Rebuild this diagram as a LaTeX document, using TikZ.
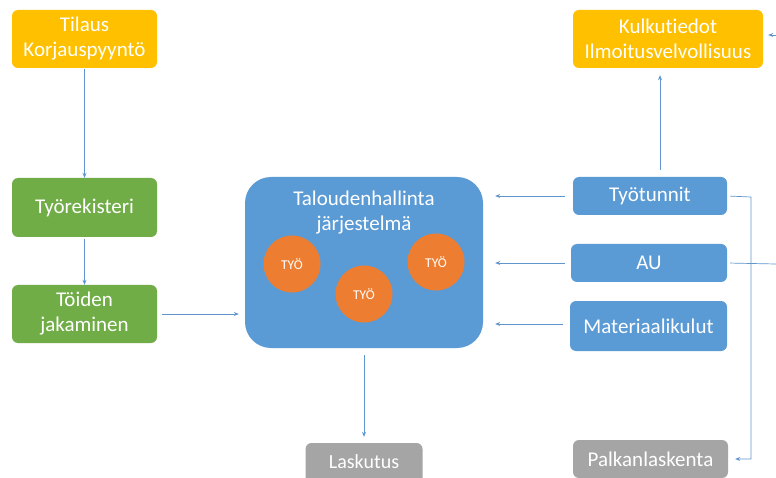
\documentclass[tikz,border=0pt]{standalone}
\usepackage{fontspec}
\setmainfont[Ligatures=CommonOff]{Carlito}
\definecolor{tilausorange}{RGB}{255, 192, 0}
\definecolor{tyogreen}{RGB}{112, 173, 71}
\definecolor{talousblue}{RGB}{91, 155, 213}
\definecolor{tyoorange}{RGB}{237, 125, 49}
\definecolor{laskugray}{RGB}{165, 165, 165}
\definecolor{linkblue}{RGB}{95, 150, 205}
\usepackage{tikz}
\usetikzlibrary{calc,arrows.meta}

\tikzset{
  box/.style = {
    rectangle,
    rounded corners = 6pt,
    inner sep       = 0pt,
    text            = white,
    align           = center,
    font            = \fontsize{21}{25}\selectfont
  },
  tyo/.style = {
    circle,
    fill            = tyoorange,
    minimum size    = 57pt,
    inner sep       = 0pt,
    text            = white,
    font            = \fontsize{13.5}{15}\selectfont
  },
  link/.style = {
    draw            = linkblue,
    line width      = 0.7pt,
    -{Stealth[length=5pt,width=4pt]}
  }
}

\begin{document}
\begin{tikzpicture}[x=1pt,y=-1pt]
  \useasboundingbox[fill=white] (0,0) rectangle (776,478);

  % vasen sarake
  \node[box, fill=tilausorange, minimum width=145pt, minimum height=58pt]
    (tilaus) at (84.5,39) {Tilaus\\Korjauspyyntö};
  \node[box, fill=tyogreen, minimum width=145pt, minimum height=59pt]
    (rekisteri) at (84.5,207.5) {Työrekisteri};
  \node[box, fill=tyogreen, minimum width=145pt, minimum height=58pt]
    (jakaminen) at (84.5,314) {Töiden\\jakaminen};

  % keskellä
  \node[
    rectangle,
    fill            = talousblue,
    rounded corners = 26pt,
    minimum width   = 238pt,
    minimum height  = 171pt
  ] (talous) at (364,262.5) {};
  \node[text=white, align=center, font=\fontsize{21}{25}\selectfont]
    (otsikko) at (364,213) {Taloudenhallinta\\järjestelmä};
  \node[tyo] (tyoA) at (292,264) {TYÖ};
  \node[tyo] (tyoB) at (364,294) {TYÖ};
  \node[tyo] (tyoC) at (436,262) {TYÖ};

  \node[box, fill=laskugray, minimum width=117pt, minimum height=45pt]
    (laskutus) at (364,465.5) {};
  \node[text=white, font=\fontsize{20}{25}\selectfont]
    (laskuteksti) at (364,462) {Laskutus};

  % oikea sarake
  \node[box, fill=tilausorange, minimum width=190pt, minimum height=58pt]
    (kulku) at (668,39) {Kulkutiedot\\Ilmoitusvelvollisuus};
  \node[box, fill=talousblue, minimum width=154pt, minimum height=38pt]
    (tunnit) at (650,196) {Työtunnit};
  \node[box, fill=talousblue, minimum width=156pt, minimum height=38pt]
    (au) at (649,263) {AU};
  \node[box, fill=talousblue, minimum width=157pt, minimum height=50pt]
    (materiaali) at (648.5,326) {Materiaalikulut};
  \node[box, fill=laskugray, minimum width=155pt, minimum height=38pt]
    (palkka) at (650.5,459) {Palkanlaskenta};

  \coordinate (kulun) at (751,197);
  \coordinate (kulkuin) at (776,35);
  \coordinate (auout) at (776,264);

  % nuolet
  \draw[link, shorten <=1pt] (tilaus.south) -- (rekisteri.north);
  \draw[link, shorten <=2pt] (rekisteri.south) -- (jakaminen.north);
  \draw[link, shorten <=5pt, shorten >=6pt] (jakaminen.east) -- (jakaminen.east -| talous.west);
  \draw[link, shorten <=8pt, shorten >=12pt] (tunnit.west) -- (tunnit.west -| talous.east);
  \draw[link, shorten <=6pt, shorten >=12pt] (au.west) -- (au.west -| talous.east);
  \draw[link, shorten <=7pt, shorten >=12pt] ([yshift=2pt]materiaali.west) -- ([yshift=2pt]materiaali.west -| talous.east);
  \draw[link, shorten <=7pt, shorten >=6pt] (talous.south) -- (laskutus.north);
  \draw[link, shorten <=7pt, shorten >=7pt] ($(tunnit.north)+(10,0)$) -- ($(kulku.south)+(-8,0)$);
  \draw[link, shorten >=5pt] (kulkuin) -- (kulkuin -| kulku.east);
  \draw[link, -, shorten <=3pt] (au.east) -- (auout);
  \draw[link, shorten <=3pt, shorten >=7pt] (tunnit.east) -- (kulun) |- (palkka.east);
\end{tikzpicture}
\end{document}
